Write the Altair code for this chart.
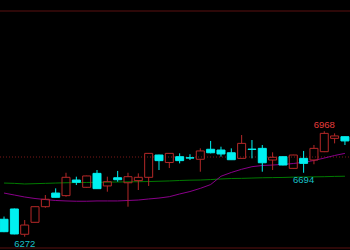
import altair as alt
import pandas as pd

# Candles (index 0..33)
opens  = [6387, 6455, 6288, 6367, 6470, 6560, 6543, 6646, 6598, 6690, 6607, 6661, 6628, 6642, 6664, 6811, 6762,
          6800, 6793, 6783, 6849, 6844, 6826, 6789, 6850, 6855, 6778, 6800, 6723, 6789, 6778, 6833, 6921, 6932]
highs  = [6405, 6458, 6382, 6472, 6547, 6591, 6694, 6668, 6675, 6712, 6668, 6706, 6694, 6690, 6824, 6813, 6824,
          6822, 6816, 6855, 6904, 6866, 6855, 6943, 6910, 6877, 6829, 6802, 6813, 6838, 6877, 6968, 6954, 6934]
lows   = [6302, 6288, 6272, 6365, 6463, 6530, 6536, 6613, 6595, 6587, 6569, 6635, 6470, 6580, 6607, 6712, 6725,
          6756, 6778, 6701, 6822, 6800, 6778, 6787, 6789, 6701, 6712, 6743, 6720, 6694, 6750, 6830, 6888, 6877]
closes = [6305, 6290, 6349, 6470, 6519, 6532, 6664, 6631, 6673, 6589, 6635, 6648, 6668, 6664, 6822, 6774, 6822,
          6774, 6791, 6838, 6826, 6818, 6780, 6888, 6848, 6760, 6796, 6745, 6811, 6756, 6855, 6954, 6937, 6904]
ma_purple = [6560, 6547, 6534, 6524, 6517, 6511, 6508, 6506, 6506, 6508, 6508, 6508, 6511, 6514, 6521, 6527, 6536,
             6554, 6570, 6591, 6616, 6671, 6696, 6717, 6734, 6742, 6745, 6749, 6755, 6763, 6775, 6791, 6808, 6822]
ma_green = [6626, 6624, 6620, 6622, 6624, 6626, 6628, 6629, 6630, 6631, 6632, 6633, 6634, 6635, 6636, 6638, 6640,
            6643, 6645, 6646, 6649, 6653, 6656, 6657, 6659, 6661, 6662, 6663, 6665, 6666, 6667, 6668, 6670, 6671]
prev_close = [6798]
label_idx = [31, 29, 2]
label_txt = ["6968", "6694", "6272"]

RED = "#b42828"
CYAN = "#00f0f0"
FRAME = "#5a1010"

df = pd.DataFrame({
    "i": list(range(len(opens))),
    "open": opens, "high": highs, "low": lows, "close": closes,
    "ma1": ma_purple, "ma2": ma_green,
})

xs = alt.Scale(domain=[-0.39, 33.49], nice=False, zero=False, padding=0)
ys = alt.Scale(domain=[6197.4, 7761.6], nice=False, zero=False)
X = alt.X("i:Q", scale=xs, axis=None)

base = alt.Chart(df).encode(x=X).transform_calculate(
    top="max(datum.open, datum.close)",
    bot="min(datum.open, datum.close)",
    dir="datum.close > datum.open ? 'up' : 'down'",
)
col = alt.Color("dir:N", scale=alt.Scale(domain=["up", "down"], range=[RED, CYAN]), legend=None)

frame = alt.Chart(pd.DataFrame({"p": [0, 237]})).mark_rule(color=FRAME, strokeWidth=1).encode(
    y=alt.Y("p:Q", scale=alt.Scale(domain=[0, 237], range=[0, 237]), axis=None),
    x=alt.value(0), x2=alt.value(350))

prev = alt.Chart(pd.DataFrame({"p": prev_close})).mark_rule(
    color="#7a1818", strokeWidth=1, strokeDash=[1, 2]).encode(
    y=alt.Y("p:Q", scale=ys, axis=None), x=alt.value(0), x2=alt.value(350))

line_g = alt.Chart(df).mark_line(color="#007a00", strokeWidth=1).encode(
    x=X, y=alt.Y("ma2:Q", scale=ys, axis=None))
line_p = alt.Chart(df).mark_line(color="#8a008a", strokeWidth=1).encode(
    x=X, y=alt.Y("ma1:Q", scale=ys, axis=None))

wick_up = base.mark_rule(strokeWidth=1).encode(
    y=alt.Y("high:Q", scale=ys, axis=None), y2="top:Q", color=col)
wick_dn = base.mark_rule(strokeWidth=1).encode(
    y=alt.Y("bot:Q", scale=ys, axis=None), y2="low:Q", color=col)

body_up = base.transform_filter("datum.dir == 'up'").mark_bar(
    size=8, fillOpacity=0, stroke=RED, strokeWidth=1).encode(
    y=alt.Y("open:Q", scale=ys, axis=None), y2="close:Q")
body_dn = base.transform_filter("datum.dir == 'down'").mark_bar(
    size=8, color=CYAN, stroke=CYAN, strokeWidth=1).encode(
    y=alt.Y("open:Q", scale=ys, axis=None), y2="close:Q")

lab_df = pd.DataFrame({
    "i": label_idx,
    "v": [highs[label_idx[0]], lows[label_idx[1]], lows[label_idx[2]]],
    "t": label_txt,
    "kind": ["hi", "lo", "lo"],
})
lab_hi = alt.Chart(lab_df).transform_filter("datum.kind == 'hi'").mark_text(
    font="Liberation Sans", fontSize=9.5, color="#e83c3c", baseline="bottom", dy=-1).encode(
    x=X, y=alt.Y("v:Q", scale=ys, axis=None), text="t:N")
lab_lo = alt.Chart(lab_df).transform_filter("datum.kind == 'lo'").mark_text(
    font="Liberation Sans", fontSize=9.5, color="#18c0c8", baseline="top", dy=2).encode(
    x=X, y=alt.Y("v:Q", scale=ys, axis=None), text="t:N")

chart = alt.layer(
    frame, prev, line_g, line_p, wick_up, wick_dn, body_up, body_dn, lab_hi, lab_lo
).resolve_scale(y="independent").properties(
    width=350, height=237, background="black",
    padding={"left": 0, "top": 11, "right": 0, "bottom": 2},
    autosize="none",
).configure_view(stroke=None)

chart.save("out.html", embed_options={"renderer": "svg", "actions": False})
